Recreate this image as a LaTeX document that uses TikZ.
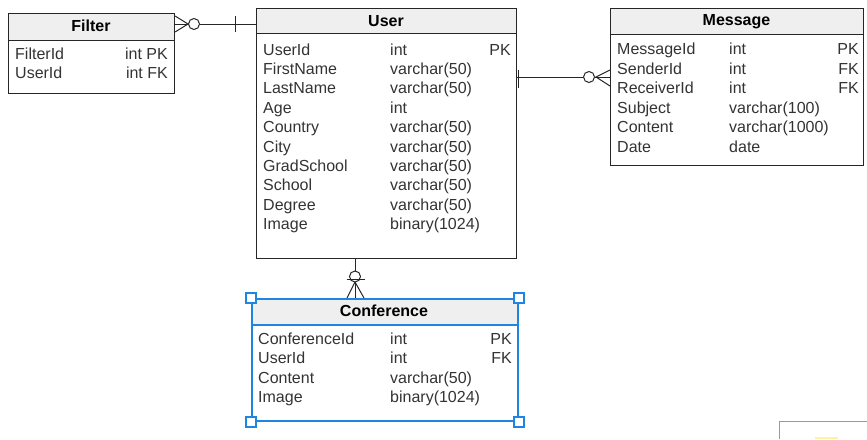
\documentclass[tikz,border=0pt]{standalone}
\usepackage{fontspec}
\setmainfont{Liberation Sans}
\definecolor{linec}{HTML}{262626}
\definecolor{txtc}{HTML}{333333}
\definecolor{hdrc}{HTML}{EFEFEF}
\definecolor{selc}{HTML}{1E86E0}
\definecolor{artc}{HTML}{9A9A9A}
\definecolor{yelc}{HTML}{FFF3A0}
\begin{document}
\begin{tikzpicture}[x=1pt,y=-1pt,
  tbl/.style={draw=linec, line width=1.1pt, inner sep=0pt, anchor=north west},
  seltbl/.style={draw=selc, line width=2pt, inner sep=0pt, anchor=north west},
  hdrtxt/.style={font=\fontsize{16}{19}\bfseries\selectfont, text=black, inner sep=0pt, anchor=center},
  col/.style={font=\fontsize{16}{19}\selectfont, text=txtc, inner sep=0pt, anchor=base west},
  colr/.style={font=\fontsize{16}{19}\selectfont, text=txtc, inner sep=0pt, anchor=base east},
  conn/.style={draw=linec, line width=1pt},
  ringc/.style={draw=linec, line width=1pt, circle, minimum size=11pt, inner sep=0pt},
  handle/.style={draw=selc, line width=1.2pt, fill=white, minimum size=10pt, inner sep=0pt, anchor=center}]
\useasboundingbox (0,0) rectangle (867,439);

% ---------- header fills ----------
\fill[hdrc] (8,13) rectangle (174,40);
\fill[hdrc] (256,8) rectangle (516,33);
\fill[hdrc] (610,8) rectangle (863,34);
\fill[hdrc] (251,298) rectangle (517,325);

% ---------- Filter ----------
\node[tbl, minimum width=166pt, minimum height=80pt] (filter) at (8,13) {};
\draw[conn] (8,40) -- (174,40);
\node[hdrtxt] (filterh) at (91,26) {Filter};
\node[col] (f1a) at (15,59) {FilterId};
\node[colr] (f1b) at (168,59) {int PK};
\node[col] (f2a) at (15,78.5) {UserId};
\node[colr] (f2b) at (168,78.5) {int FK};

% ---------- User ----------
\node[tbl, minimum width=260pt, minimum height=250pt] (user) at (256,8) {};
\draw[conn] (256,33) -- (516,33);
\node[hdrtxt] (userh) at (386,21) {User};
\foreach \n/\t [count=\i from 0] in {UserId/int,FirstName/varchar(50),LastName/varchar(50),Age/int,Country/varchar(50),City/varchar(50),GradSchool/varchar(50),School/varchar(50),Degree/varchar(50),Image/binary(1024)}{
  \node[col] (u\i a) at (263,55+19.4*\i) {\n};
  \node[col] (u\i b) at (390,55+19.4*\i) {\t};
}
\node[colr] (u0c) at (511,55) {PK};

% ---------- Message ----------
\node[tbl, minimum width=253pt, minimum height=157pt] (msg) at (610,8) {};
\draw[conn] (610,34) -- (863,34);
\node[hdrtxt] (msgh) at (736.5,21.5) {Message};
\foreach \n/\t [count=\i from 0] in {MessageId/int,SenderId/int,ReceiverId/int,Subject/varchar(100),Content/varchar(1000),Date/date}{
  \node[col] (m\i a) at (617,54.5+19.6*\i) {\n};
  \node[col] (m\i b) at (729,54.5+19.6*\i) {\t};
}
\node[colr] (m0c) at (859,54.5) {PK};
\node[colr] (m1c) at (859,74.1) {FK};
\node[colr] (m2c) at (859,93.7) {FK};

% ---------- Conference ----------
\node[seltbl, minimum width=266pt, minimum height=122pt] (conf) at (251,298) {};
\draw[draw=selc, line width=1.6pt] (251,325) -- (517,325);
\node[hdrtxt] (confh) at (384,310.5) {Conference};
\foreach \n/\t [count=\i from 0] in {ConferenceId/int,UserId/int,Content/varchar(50),Image/binary(1024)}{
  \node[col] (c\i a) at (258,344+19.6*\i) {\n};
  \node[col] (c\i b) at (390,344+19.6*\i) {\t};
}
\node[colr] (c0c) at (512,344) {PK};
\node[colr] (c1c) at (512,363.6) {FK};
\node[handle] (h1) at (conf.north west) {};
\node[handle] (h2) at (conf.north east) {};
\node[handle] (h3) at (conf.south west) {};
\node[handle] (h4) at (conf.south east) {};

% ---------- Filter -- User ----------
\coordinate (fuA) at (filter.east |- 0,24);
\coordinate (fuB) at (user.west |- 0,24);
\node[ringc] (fucirc) at (194,24) {};
\draw[conn] (fucirc.east) -- (fuB);
\draw[conn] (fuA) -- (fucirc.west);
\draw[conn] ([yshift=8pt]fuA) -- (188,24) -- ([yshift=-8pt]fuA);
\draw[conn] (235,16) -- (235,32);

% ---------- User -- Message ----------
\coordinate (umA) at (user.east |- 0,77);
\coordinate (umB) at (msg.west |- 0,77);
\node[ringc] (umcirc) at (589,77) {};
\draw[conn] (umA) -- (umcirc.west);
\draw[conn] (umcirc.east) -- (umB);
\draw[conn] ([yshift=7pt]umB) -- (596,77) -- ([yshift=-9pt]umB);
\draw[conn] (518,69.5) -- (518,87.5);

% ---------- User -- Conference ----------
\coordinate (ucA) at (user.south -| 355,0);
\coordinate (ucB) at (conf.north -| 355,0);
\node[ringc] (uccirc) at (355,276.5) {};
\draw[conn] (ucA) -- (uccirc.north);
\draw[conn] (uccirc.south) -- (ucB);
\draw[conn] (346.5,279) -- (364.5,279);
\draw[conn] ([xshift=-8pt]ucB) -- (355,282) -- ([xshift=9pt]ucB);

% ---------- bottom-right fragment ----------
\draw[artc, line width=0.8pt] (779,439) -- (779,421) -- (867,421);
\draw[yelc, line width=2pt] (815,438) -- (838,438);
\end{tikzpicture}
\end{document}
